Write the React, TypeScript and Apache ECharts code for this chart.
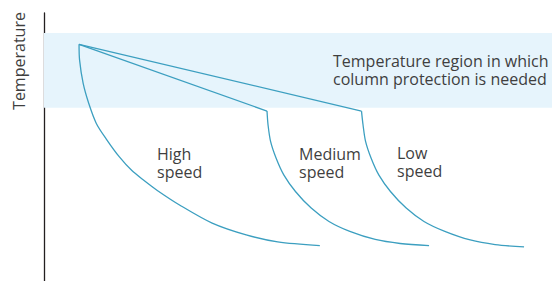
import React, { useEffect, useRef } from "react";
import * as echarts from "echarts";

// Abstract units: time 0..100 (x), temperature 0..100 (y)
const startPoint: [number, number] = [6.9, 88.3];
const mediumBreak: [number, number] = [43.9, 63.4];
const lowBreak: [number, number] = [62.5, 63.4];

const highCurve: [number, number][] = [
  [6.9, 88.3], [7.0, 82.5], [7.7, 73.8], [8.8, 66.3], [10.3, 58.8],
  [12.4, 52.6], [14.8, 46.4], [17.3, 41.2], [19.7, 37.5], [22.3, 33.8],
  [27.0, 28.0], [33.1, 21.6], [39.8, 17.2], [46.0, 14.6], [54.3, 13.2],
];
const mediumCurve: [number, number][] = [
  [43.9, 63.4], [44.1, 58.3], [44.6, 52.1], [45.7, 45.8], [47.2, 39.6],
  [49.5, 33.4], [52.6, 27.2], [56.1, 22.2], [60.2, 18.5], [65.2, 15.5],
  [70.1, 14.0], [75.8, 13.2],
];
const lowCurve: [number, number][] = [
  [62.5, 63.4], [62.8, 58.3], [63.3, 52.1], [64.4, 45.8], [65.9, 39.6],
  [68.2, 33.4], [71.3, 27.2], [74.8, 22.2], [78.9, 18.5], [83.9, 15.3],
  [88.8, 13.6], [94.5, 12.7],
];
const protectionBand: [number, number] = [64.6, 92.5];

const axisTitle = "Temperature";
const bandLabel = "Temperature region in which\ncolumn protection is needed";
const speedLabels = ["High\nspeed", "Medium\nspeed", "Low\nspeed"];

const LINE = "#3c9fc0";
const TEXT = "#3f3f3f";
const FONT = "'Open Sans', 'Noto Sans', sans-serif";

export default function App() {
  const ref = useRef<HTMLDivElement>(null);
  useEffect(() => {
    if (!ref.current) return;
    const chart = echarts.init(ref.current, undefined, { renderer: "svg" });
    const lineStyle = { color: LINE, width: 1.3 };
    const base = {
      type: "line" as const,
      showSymbol: false,
      silent: true,
      lineStyle,
      z: 3,
    };
    const txt = (text: string, x: number, y: number) => ({
      type: "text",
      x,
      y,
      z: 100,
      style: { text, font: `16px ${FONT}`, fill: TEXT, lineHeight: 17.5, align: "left", verticalAlign: "top" },
    });
    chart.setOption({
      animation: false,
      grid: { left: 44, right: 0, top: 13, bottom: 0, containLabel: false },
      xAxis: { type: "value", min: 0, max: 100, show: false },
      yAxis: {
        type: "value",
        min: 0,
        max: 100,
        axisLine: { show: true, lineStyle: { color: "#231f20", width: 1.3 } },
        axisTick: { show: false },
        axisLabel: { show: false },
        splitLine: { show: false },
      },
      series: [
        {
          ...base,
          name: "toMedium",
          data: [startPoint, mediumBreak],
          markArea: {
            silent: true,
            itemStyle: { color: "#e6f4fc" },
            data: [[{ xAxis: 0, yAxis: protectionBand[0] }, { xAxis: 100, yAxis: protectionBand[1] }]],
          },
        },
        { ...base, name: "toLow", data: [startPoint, lowBreak] },
        { ...base, name: "High speed", data: highCurve, smooth: 0.3 },
        { ...base, name: "Medium speed", data: mediumCurve, smooth: 0.3 },
        { ...base, name: "Low speed", data: lowCurve, smooth: 0.3 },
      ],
      graphic: [
        {
          type: "text",
          x: 19,
          y: 61,
          z: 100,
          rotation: Math.PI / 2,
          style: { text: axisTitle, font: `16px ${FONT}`, fill: TEXT, align: "center", verticalAlign: "middle" },
        },
        txt(bandLabel, 333, 52.5),
        txt(speedLabels[0], 157, 145.5),
        txt(speedLabels[1], 299, 145.5),
        txt(speedLabels[2], 397, 144.5),
      ],
    });
    return () => chart.dispose();
  }, []);
  return (
    <div
      ref={ref}
      style={{ position: "fixed", left: 0, top: 0, width: 552, height: 281, background: "#fff" }}
    />
  );
}
